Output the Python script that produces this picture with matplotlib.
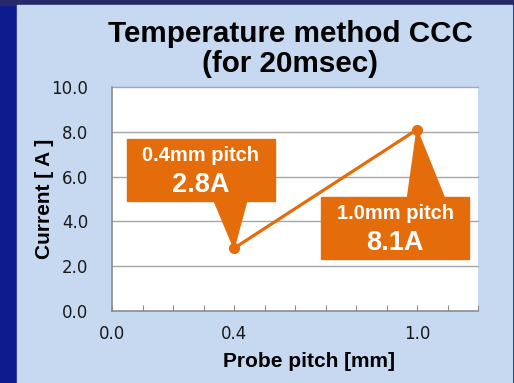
import matplotlib.pyplot as plt
from matplotlib.patches import Rectangle, Polygon

# probe pitch [mm] vs current [A]
pitch = [0.4, 1.0]
current = [2.8, 8.1]
x_ticklabels = ['0.0', '0.4', '1.0']
x_tickpos = [0.0, 0.4, 1.0]

orange = '#e46c0a'
panel = '#c6d9f0'

plt.rcParams['font.family'] = ['Liberation Sans', 'DejaVu Sans']

fig = plt.figure(figsize=(5.14, 3.83), dpi=100)
fig.patch.set_facecolor('#0e1b8e')
fig.patches.append(Rectangle((0, 1 - 5 / 383), 1, 5 / 383, transform=fig.transFigure,
                             color='#262a6a', zorder=-2))
fig.patches.append(Rectangle((17 / 514, 0), 495 / 514, 378 / 383, transform=fig.transFigure,
                             color=panel, zorder=-1))

ax = fig.add_axes([112 / 514, 1 - 311 / 383, 366 / 514, 224 / 383])
ax.set_zorder(1)
ax.set_facecolor('white')
ax.set_xlim(0, 1.2)
ax.set_ylim(0, 10)

ax.plot(pitch, current, color=orange, lw=2.3, marker='o', ms=7, zorder=4)

# gridlines & axes styling
ax.set_yticks([0, 2, 4, 6, 8, 10])
ax.set_yticklabels([f'{v:.1f}' for v in [0, 2, 4, 6, 8, 10]])
for v in [2, 4, 6, 8, 10]:
    ax.axhline(v, color='#a6a6a6', lw=1, zorder=1, clip_on=False)
ax.set_xticks([i / 10 for i in range(13)])
ax.set_xticklabels([x_ticklabels[x_tickpos.index(round(i / 10, 1))] if round(i / 10, 1) in x_tickpos else ''
                    for i in range(13)])
ax.tick_params(axis='x', direction='in', length=4, color='#8c8c8c', pad=10, labelsize=12,
               labelcolor='#1a1a1a')
ax.tick_params(axis='y', length=0, pad=17, labelsize=12, labelcolor='#1a1a1a')
for lab in ax.get_xticklabels() + ax.get_yticklabels():
    lab.set_family(['DejaVu Sans'])
for s in ['top', 'right']:
    ax.spines[s].set_visible(False)
for s in ['left', 'bottom']:
    ax.spines[s].set_color('#8c8c8c')
    ax.spines[s].set_linewidth(1.2)

ax.set_xlabel('Probe pitch [mm]', fontsize=15, fontweight='bold')
ax.xaxis.set_label_coords(0.538, -0.185)
ax.set_ylabel('Current [ A ]', fontsize=15, fontweight='bold', labelpad=-2)
fig.text(0.565, 0.872, 'Temperature method CCC\n(for 20msec)', ha='center', va='center',
         fontsize=21.3, fontweight='bold', linespacing=1.1)

# callouts: (box x0, x1, y0, y1), triangle base (xa, xb, y)
callouts = [
    ((0.049, 0.533, 4.91, 7.68), (0.335, 0.442, 4.91), 0),
    ((0.686, 1.171, 2.32, 5.09), (0.969, 1.089, 5.09), 1),
]
for (x0, x1, y0, y1), (xa, xb, yb), i in callouts:
    ax.add_patch(Rectangle((x0, y0), x1 - x0, y1 - y0, color=orange, zorder=5, clip_on=False))
    ax.add_patch(Polygon([(xa, yb), (xb, yb), (pitch[i], current[i])], closed=True,
                         color=orange, zorder=5, clip_on=False))
    xc = (x0 + x1) / 2
    h = y1 - y0
    ax.text(xc, y1 - h * 0.27, f'{pitch[i]:.1f}mm pitch', ha='center', va='center',
            color='white', fontsize=14.5, fontweight='bold', zorder=6)
    ax.text(xc, y1 - h * 0.74, f'{current[i]:.1f}A', ha='center', va='center',
            color='white', fontsize=19.5, fontweight='bold', zorder=6)

fig.savefig('out.png', dpi=100)
